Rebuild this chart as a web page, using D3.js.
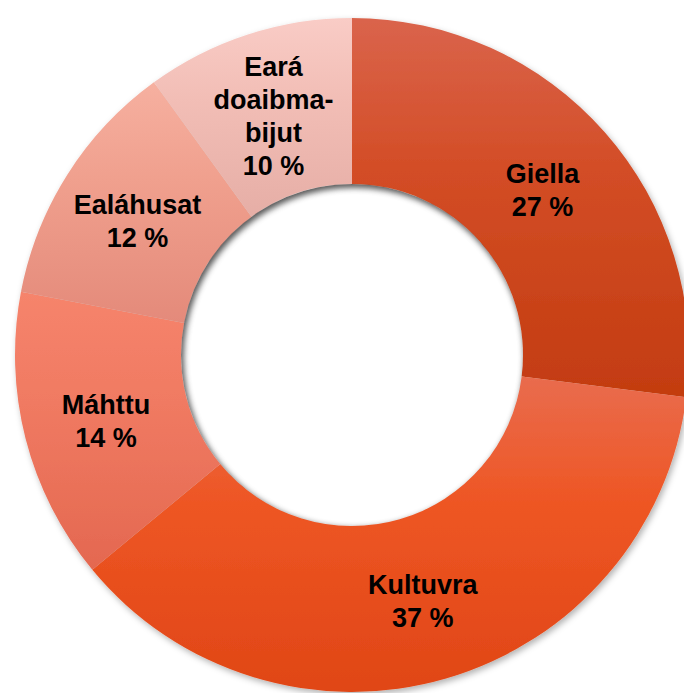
<!DOCTYPE html>
<html>
<head>
<meta charset="utf-8">
<script src="https://cdn.jsdelivr.net/npm/d3@7"></script>
<style>
  body { margin: 0; background: #fff; }
  svg { display: block; }
</style>
</head>
<body>
<svg width="684" height="693"></svg>
<script>
// categories and shares (%), clockwise from 12 o'clock
const categories = ["Giella", "Kultuvra", "Máhttu", "Ealáhusat", "Eará doaibma-bijut"];
const labelLines = [["Giella"], ["Kultuvra"], ["Máhttu"], ["Ealáhusat"], ["Eará", "doaibma-", "bijut"]];
const values = [27, 37, 14, 12, 10];
// gradient colours per slice: top, middle, bottom
const topColors = ["#da644c", "#e96c4e", "#f6846c", "#f6b0a0", "#f9ccc6"];
const midColors = ["#d34d26", "#ee5624", "#f07a62", "#f0a08e", "#f2beb6"];
const bottomColors = ["#c33c10", "#e04616", "#e46850", "#e48a7a", "#e6aea6"];

var svg = d3.select("svg"),
    cx = 352, cy = 355,
    outerR = 337, innerR = 171;

var data = categories.map((c, i) => ({name: c, lines: labelLines[i], value: values[i], i: i}));

var pie = d3.pie().sort(null).value(d => d.value);
var arc = d3.arc().innerRadius(innerR).outerRadius(outerR);
var arcs = pie(data);

var defs = svg.append("defs");

arcs.forEach((a, i) => {
    var g = defs.append("linearGradient")
        .attr("id", "grad" + i)
        .attr("x1", 0).attr("y1", 0).attr("x2", 0).attr("y2", 1);
    g.append("stop").attr("offset", "0%").attr("stop-color", topColors[i]);
    g.append("stop").attr("offset", "40%").attr("stop-color", midColors[i]);
    g.append("stop").attr("offset", "100%").attr("stop-color", bottomColors[i]);
});

var shadow = defs.append("filter").attr("id", "shadow")
    .attr("x", "-10%").attr("y", "-10%").attr("width", "120%").attr("height", "120%");
shadow.append("feDropShadow")
    .attr("dx", 2).attr("dy", 3).attr("stdDeviation", 3)
    .attr("flood-color", "#000").attr("flood-opacity", 0.3);

var blur = defs.append("filter").attr("id", "blur")
    .attr("x", "-20%").attr("y", "-20%").attr("width", "140%").attr("height", "140%");
blur.append("feGaussianBlur").attr("stdDeviation", 3);

defs.append("clipPath").attr("id", "holeClip")
    .append("circle").attr("cx", cx).attr("cy", cy).attr("r", innerR);

var chart = svg.append("g").attr("transform", `translate(${cx},${cy})`);

chart.append("g")
    .attr("filter", "url(#shadow)")
    .selectAll("path")
    .data(arcs)
    .enter().append("path")
    .attr("d", arc)
    .attr("fill", (d, i) => `url(#grad${i})`);

// inset shadow inside the hole (light from bottom right)
svg.append("g")
    .attr("clip-path", "url(#holeClip)")
    .append("circle")
    .attr("cx", cx + 2).attr("cy", cy + 3)
    .attr("r", innerR + 6)
    .attr("fill", "none")
    .attr("stroke", "#000")
    .attr("stroke-width", 12)
    .attr("stroke-opacity", 0.55)
    .attr("filter", "url(#blur)");

var fontSize = 27, lineH = 33;

chart.append("g")
    .selectAll("text")
    .data(arcs)
    .enter().append("text")
    .attr("text-anchor", "middle")
    .style("font-family", "Arial, 'Liberation Sans', sans-serif")
    .style("font-weight", "bold")
    .style("font-size", fontSize + "px")
    .attr("fill", "#000")
    .each(function (d) {
        var c = arc.centroid(d);
        var lines = d.data.lines.concat([d.data.value + " %"]);
        var y0 = c[1] - (lines.length - 1) / 2 * lineH + 12;
        var t = d3.select(this);
        lines.forEach((l, k) => {
            t.append("tspan")
                .attr("x", c[0])
                .attr("y", y0 + k * lineH)
                .text(l);
        });
    });
</script>
</body>
</html>
